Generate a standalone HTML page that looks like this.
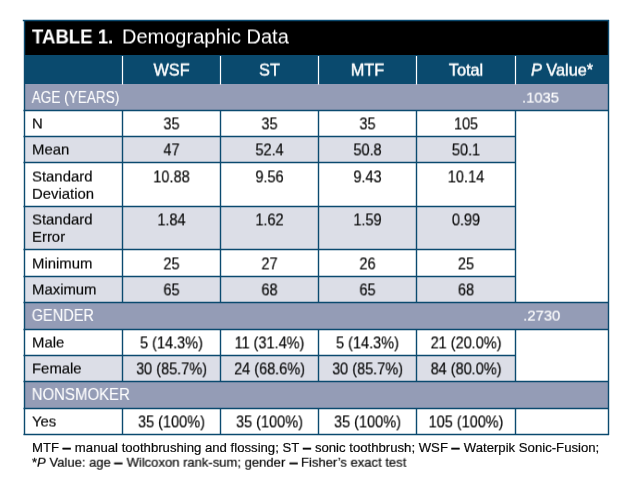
<!DOCTYPE html>
<html><head><meta charset="utf-8">
<style>
html,body{margin:0;padding:0;background:#fff;}
body{width:620px;height:485px;position:relative;overflow:hidden;font-family:"Liberation Sans",sans-serif;color:#0a0a0a;}
.abs{position:absolute;}
.t{position:absolute;white-space:nowrap;line-height:1;will-change:transform;transform-origin:0 50%;}
.c{text-align:center;font-size:15.7px;transform-origin:50% 50%;-webkit-text-stroke:0.2px #0a0a0a;}
.l{font-size:14.9px;-webkit-text-stroke:0.18px #0a0a0a;}
.h{text-align:center;font-size:16.3px;color:#fff;-webkit-text-stroke:0.4px #fff;transform-origin:50% 50%;}
.s{font-size:15.9px;color:#fff;-webkit-text-stroke:0.1px #fff;}
.p{font-size:15.3px;color:#fff;-webkit-text-stroke:0.2px #fff;}
.f{font-size:13.1px;-webkit-text-stroke:0.2px #0a0a0a;}
.f b{display:inline-block;transform:scaleX(1.22);margin:0 0.6px;-webkit-text-stroke:0.4px #0a0a0a;}
svg{position:absolute;left:0;top:0;}
</style></head><body>
<div class="abs" style="left:24px;top:20px;width:585px;height:35px;background:#000;"></div>
<div class="abs" style="left:24px;top:55px;width:585px;height:29px;background:#0a4a6e;"></div>
<div class="abs" style="left:24px;top:84px;width:585px;height:26px;background:#949cb6;"></div>
<div class="abs" style="left:24px;top:302px;width:585px;height:27px;background:#949cb6;"></div>
<div class="abs" style="left:24px;top:381px;width:585px;height:27px;background:#949cb6;"></div>
<div class="abs" style="left:24px;top:137px;width:492px;height:25px;background:#dcdee7;"></div>
<div class="abs" style="left:24px;top:207px;width:492px;height:42px;background:#dcdee7;"></div>
<div class="abs" style="left:24px;top:277px;width:492px;height:25px;background:#dcdee7;"></div>
<div class="abs" style="left:24px;top:356px;width:492px;height:25px;background:#dcdee7;"></div>
<svg width="620" height="485" viewBox="0 0 620 485">
<line x1="22.8" y1="20.5" x2="609" y2="20.5" stroke="#0b4a6f" stroke-width="1.4"/>
<line x1="23.5" y1="110.5" x2="609" y2="110.5" stroke="#0b4a6f" stroke-width="1.4"/>
<line x1="23.5" y1="302.5" x2="609" y2="302.5" stroke="#0b4a6f" stroke-width="1.4"/>
<line x1="23.5" y1="329.5" x2="609" y2="329.5" stroke="#0b4a6f" stroke-width="1.4"/>
<line x1="23.5" y1="381.5" x2="609" y2="381.5" stroke="#0b4a6f" stroke-width="1.4"/>
<line x1="23.5" y1="408.5" x2="609" y2="408.5" stroke="#0b4a6f" stroke-width="1.4"/>
<line x1="23.5" y1="434.5" x2="609" y2="434.5" stroke="#0b4a6f" stroke-width="1.4"/>
<line x1="23.5" y1="136.5" x2="516" y2="136.5" stroke="#0b4a6f" stroke-width="1.4"/>
<line x1="23.5" y1="162.5" x2="516" y2="162.5" stroke="#0b4a6f" stroke-width="1.4"/>
<line x1="23.5" y1="206.5" x2="516" y2="206.5" stroke="#0b4a6f" stroke-width="1.4"/>
<line x1="23.5" y1="249.5" x2="516" y2="249.5" stroke="#0b4a6f" stroke-width="1.4"/>
<line x1="23.5" y1="276.5" x2="516" y2="276.5" stroke="#0b4a6f" stroke-width="1.4"/>
<line x1="23.5" y1="355.5" x2="516" y2="355.5" stroke="#0b4a6f" stroke-width="1.4"/>
<line x1="24.5" y1="20" x2="24.5" y2="435" stroke="#0b4a6f" stroke-width="1.4"/>
<line x1="608.5" y1="20" x2="608.5" y2="435" stroke="#0b4a6f" stroke-width="1.4"/>
<line x1="122.5" y1="110" x2="122.5" y2="303" stroke="#0b4a6f" stroke-width="1.4"/>
<line x1="122.5" y1="329" x2="122.5" y2="382" stroke="#0b4a6f" stroke-width="1.4"/>
<line x1="122.5" y1="408" x2="122.5" y2="435" stroke="#0b4a6f" stroke-width="1.4"/>
<line x1="122.5" y1="56" x2="122.5" y2="84.5" stroke="#fff" stroke-width="1.2"/>
<line x1="220.5" y1="110" x2="220.5" y2="303" stroke="#0b4a6f" stroke-width="1.4"/>
<line x1="220.5" y1="329" x2="220.5" y2="382" stroke="#0b4a6f" stroke-width="1.4"/>
<line x1="220.5" y1="408" x2="220.5" y2="435" stroke="#0b4a6f" stroke-width="1.4"/>
<line x1="220.5" y1="56" x2="220.5" y2="84.5" stroke="#fff" stroke-width="1.2"/>
<line x1="318.5" y1="110" x2="318.5" y2="303" stroke="#0b4a6f" stroke-width="1.4"/>
<line x1="318.5" y1="329" x2="318.5" y2="382" stroke="#0b4a6f" stroke-width="1.4"/>
<line x1="318.5" y1="408" x2="318.5" y2="435" stroke="#0b4a6f" stroke-width="1.4"/>
<line x1="318.5" y1="56" x2="318.5" y2="84.5" stroke="#fff" stroke-width="1.2"/>
<line x1="416.5" y1="110" x2="416.5" y2="303" stroke="#0b4a6f" stroke-width="1.4"/>
<line x1="416.5" y1="329" x2="416.5" y2="382" stroke="#0b4a6f" stroke-width="1.4"/>
<line x1="416.5" y1="408" x2="416.5" y2="435" stroke="#0b4a6f" stroke-width="1.4"/>
<line x1="416.5" y1="56" x2="416.5" y2="84.5" stroke="#fff" stroke-width="1.2"/>
<line x1="515.5" y1="110" x2="515.5" y2="303" stroke="#0b4a6f" stroke-width="1.4"/>
<line x1="515.5" y1="329" x2="515.5" y2="382" stroke="#0b4a6f" stroke-width="1.4"/>
<line x1="515.5" y1="408" x2="515.5" y2="435" stroke="#0b4a6f" stroke-width="1.4"/>
<line x1="515.5" y1="56" x2="515.5" y2="84.5" stroke="#fff" stroke-width="1.2"/>
</svg>
<div class="t " style="left:32px;top:26px;transform:translate(0px,0.5px) scaleX(0.93);font-size:20px;color:#fff;font-weight:bold;">TABLE 1.</div>
<div class="t " style="left:122px;top:26px;transform:translate(0px,0.5px) scaleX(0.9999);font-size:20px;color:#fff;">Demographic Data</div>
<div class="t h" style="left:123px;top:61px;width:97px;transform:translate(0px,0.6px) scaleX(0.9999);">WSF</div>
<div class="t h" style="left:221px;top:61px;width:97px;transform:translate(0px,0.6px) scaleX(0.9999);">ST</div>
<div class="t h" style="left:319px;top:61px;width:97px;transform:translate(0px,0.6px) scaleX(0.9999);">MTF</div>
<div class="t h" style="left:417px;top:61px;width:98px;transform:translate(0px,0.6px) scaleX(0.9999);">Total</div>
<div class="t h" style="left:516px;top:61px;width:92px;transform:translate(0px,0.6px) scaleX(0.9999);"><i>P</i> Value*</div>
<div class="t s" style="left:31px;top:89px;transform:translate(0.7px,0.9px) scaleX(0.855);">AGE (YEARS)</div>
<div class="t p" style="left:522px;top:89px;transform:translate(0px,0.6px) scaleX(0.965);">.1035</div>
<div class="t s" style="left:31px;top:307px;transform:translate(0.7px,0.9px) scaleX(0.915);">GENDER</div>
<div class="t p" style="left:523px;top:307px;transform:translate(0.2px,0.6px) scaleX(0.97);">.2730</div>
<div class="t s" style="left:31px;top:386px;transform:translate(0.7px,0.9px) scaleX(0.942);">NONSMOKER</div>
<div class="t l" style="left:32px;top:116px;transform:translate(0px,0.5px) scaleX(0.9999);">N</div>
<div class="t c" style="left:123px;top:116px;width:97px;transform:translate(0px,0.4px) scaleX(0.924);">35</div>
<div class="t c" style="left:221px;top:116px;width:97px;transform:translate(0px,0.4px) scaleX(0.924);">35</div>
<div class="t c" style="left:319px;top:116px;width:97px;transform:translate(0px,0.4px) scaleX(0.924);">35</div>
<div class="t c" style="left:417px;top:116px;width:98px;transform:translate(0px,0.4px) scaleX(0.924);">105</div>
<div class="t l" style="left:32px;top:142px;transform:translate(0px,0.5px) scaleX(0.9999);">Mean</div>
<div class="t c" style="left:123px;top:142px;width:97px;transform:translate(0px,0.4px) scaleX(0.924);">47</div>
<div class="t c" style="left:221px;top:142px;width:97px;transform:translate(0px,0.4px) scaleX(0.924);">52.4</div>
<div class="t c" style="left:319px;top:142px;width:97px;transform:translate(0px,0.4px) scaleX(0.924);">50.8</div>
<div class="t c" style="left:417px;top:142px;width:98px;transform:translate(0px,0.4px) scaleX(0.924);">50.1</div>
<div class="t l" style="left:32px;top:169px;transform:translate(0px,0.5px) scaleX(0.9999);">Standard</div>
<div class="t l" style="left:32px;top:186px;transform:translate(0px,0.8px) scaleX(0.9999);">Deviation</div>
<div class="t c" style="left:123px;top:169px;width:97px;transform:translate(0px,0.4px) scaleX(0.924);">10.88</div>
<div class="t c" style="left:221px;top:169px;width:97px;transform:translate(0px,0.4px) scaleX(0.924);">9.56</div>
<div class="t c" style="left:319px;top:169px;width:97px;transform:translate(0px,0.4px) scaleX(0.924);">9.43</div>
<div class="t c" style="left:417px;top:169px;width:98px;transform:translate(0px,0.4px) scaleX(0.924);">10.14</div>
<div class="t l" style="left:32px;top:212px;transform:translate(0px,0.5px) scaleX(0.9999);">Standard</div>
<div class="t l" style="left:32px;top:229px;transform:translate(0px,0.8px) scaleX(0.9999);">Error</div>
<div class="t c" style="left:123px;top:212px;width:97px;transform:translate(0px,0.4px) scaleX(0.924);">1.84</div>
<div class="t c" style="left:221px;top:212px;width:97px;transform:translate(0px,0.4px) scaleX(0.924);">1.62</div>
<div class="t c" style="left:319px;top:212px;width:97px;transform:translate(0px,0.4px) scaleX(0.924);">1.59</div>
<div class="t c" style="left:417px;top:212px;width:98px;transform:translate(0px,0.4px) scaleX(0.924);">0.99</div>
<div class="t l" style="left:32px;top:256px;transform:translate(0px,0.5px) scaleX(0.9999);">Minimum</div>
<div class="t c" style="left:123px;top:256px;width:97px;transform:translate(0px,0.4px) scaleX(0.924);">25</div>
<div class="t c" style="left:221px;top:256px;width:97px;transform:translate(0px,0.4px) scaleX(0.924);">27</div>
<div class="t c" style="left:319px;top:256px;width:97px;transform:translate(0px,0.4px) scaleX(0.924);">26</div>
<div class="t c" style="left:417px;top:256px;width:98px;transform:translate(0px,0.4px) scaleX(0.924);">25</div>
<div class="t l" style="left:32px;top:282px;transform:translate(0px,0.5px) scaleX(0.9999);">Maximum</div>
<div class="t c" style="left:123px;top:282px;width:97px;transform:translate(0px,0.4px) scaleX(0.924);">65</div>
<div class="t c" style="left:221px;top:282px;width:97px;transform:translate(0px,0.4px) scaleX(0.924);">68</div>
<div class="t c" style="left:319px;top:282px;width:97px;transform:translate(0px,0.4px) scaleX(0.924);">65</div>
<div class="t c" style="left:417px;top:282px;width:98px;transform:translate(0px,0.4px) scaleX(0.924);">68</div>
<div class="t l" style="left:32px;top:335px;transform:translate(0px,0.5px) scaleX(0.9999);">Male</div>
<div class="t c" style="left:123px;top:335px;width:97px;transform:translate(0px,0.4px) scaleX(0.924);">5 (14.3%)</div>
<div class="t c" style="left:221px;top:335px;width:97px;transform:translate(0px,0.4px) scaleX(0.924);">11 (31.4%)</div>
<div class="t c" style="left:319px;top:335px;width:97px;transform:translate(0px,0.4px) scaleX(0.924);">5 (14.3%)</div>
<div class="t c" style="left:417px;top:335px;width:98px;transform:translate(0px,0.4px) scaleX(0.924);">21 (20.0%)</div>
<div class="t l" style="left:32px;top:361px;transform:translate(0px,0.5px) scaleX(0.9999);">Female</div>
<div class="t c" style="left:123px;top:361px;width:97px;transform:translate(0px,0.4px) scaleX(0.924);">30 (85.7%)</div>
<div class="t c" style="left:221px;top:361px;width:97px;transform:translate(0px,0.4px) scaleX(0.924);">24 (68.6%)</div>
<div class="t c" style="left:319px;top:361px;width:97px;transform:translate(0px,0.4px) scaleX(0.924);">30 (85.7%)</div>
<div class="t c" style="left:417px;top:361px;width:98px;transform:translate(0px,0.4px) scaleX(0.924);">84 (80.0%)</div>
<div class="t l" style="left:32px;top:414px;transform:translate(0px,0.5px) scaleX(0.9999);">Yes</div>
<div class="t c" style="left:123px;top:414px;width:97px;transform:translate(0px,0.4px) scaleX(0.924);">35 (100%)</div>
<div class="t c" style="left:221px;top:414px;width:97px;transform:translate(0px,0.4px) scaleX(0.924);">35 (100%)</div>
<div class="t c" style="left:319px;top:414px;width:97px;transform:translate(0px,0.4px) scaleX(0.924);">35 (100%)</div>
<div class="t c" style="left:417px;top:414px;width:98px;transform:translate(0px,0.4px) scaleX(0.924);">105 (100%)</div>
<div class="t f" style="left:32px;top:440px;transform:translate(0px,0.9px) scaleX(1.0044);">MTF <b>–</b> manual toothbrushing and flossing; ST <b>–</b> sonic toothbrush; WSF <b>–</b> Waterpik Sonic-Fusion;</div>
<div class="t f" style="left:32px;top:455px;transform:translate(0px,0.7px) scaleX(0.996);">*<i>P</i> Value: age <b>–</b> Wilcoxon rank-sum; gender <b>–</b> Fisher’s exact test</div>
</body></html>
